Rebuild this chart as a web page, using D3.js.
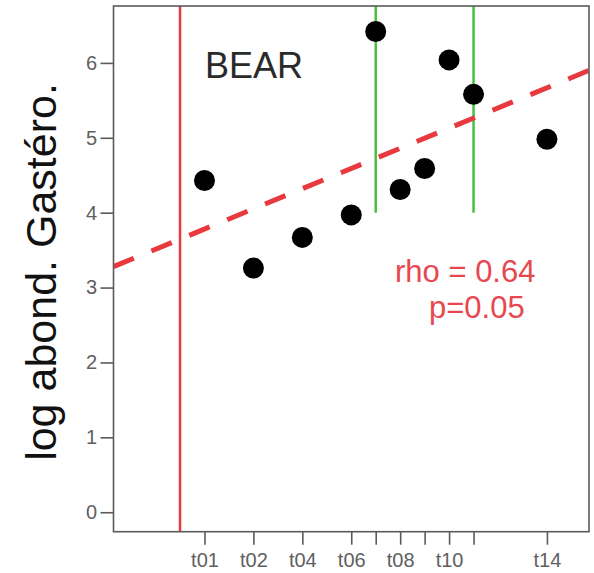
<!DOCTYPE html>
<html>
<head>
<meta charset="utf-8">
<script src="https://cdn.jsdelivr.net/npm/d3@7"></script>
<style>
  html, body { margin: 0; padding: 0; background: #fff; }
  svg { display: block; }
  text { font-family: "Liberation Sans", Arial, Helvetica, sans-serif; }
</style>
</head>
<body>
<svg id="chart" width="594" height="573"></svg>
<script>
// ---- data ----
const tickPositions = [1, 3, 5, 7, 8, 9, 10, 11, 12, 15];
const tickLabels    = ["t01", "t02", "t04", "t06", "t07", "t08", "t09", "t10", "t11", "t14"];
const shownLabels   = ["t01", "t02", "t04", "t06", "t08", "t10", "t14"];
const pointX = [1, 3, 5, 7, 8, 9, 10, 11, 12, 15];
const pointY = [4.43, 3.26, 3.67, 3.97, 6.42, 4.31, 4.59, 6.04, 5.58, 4.98];
const yTicks = [0, 1, 2, 3, 4, 5, 6];
const trendX = [-2.72, 16.72];
const trendY = [3.28, 5.90];
const redLineX = [0];
const greenLineX = [8, 12];
const greenLineFrom = [4.0];
const title = "BEAR";
const yLabel = "log abond. Gastéro.";
const statLines = ["rho = 0.64", "p=0.05"];

// ---- layout ----
const svg = d3.select("#chart");
const plot = { left: 113.5, right: 589, top: 6, bottom: 531.7 };

const x = d3.scaleLinear().domain([-2.72, 16.72]).range([plot.left, plot.right]);
const y = d3.scaleLinear().domain([-0.26, 6.76]).range([plot.bottom, plot.top]);

const red = "#e8393e";
const green = "#45c23c";
const axisGray = "#5a5a5a";

svg.append("defs").append("clipPath").attr("id", "clip")
  .append("rect")
  .attr("x", plot.left).attr("y", plot.top)
  .attr("width", plot.right - plot.left).attr("height", plot.bottom - plot.top);

const g = svg.append("g").attr("clip-path", "url(#clip)");

// red vertical line
g.selectAll("line.red").data(redLineX).join("line")
  .attr("class", "red")
  .attr("x1", d => x(d)).attr("x2", d => x(d))
  .attr("y1", y.range()[0]).attr("y2", y.range()[1])
  .attr("stroke", red).attr("stroke-width", 2.5);

// green vertical lines
g.selectAll("line.green").data(greenLineX).join("line")
  .attr("class", "green")
  .attr("x1", d => x(d)).attr("x2", d => x(d))
  .attr("y1", y(greenLineFrom[0])).attr("y2", y.range()[1])
  .attr("stroke", green).attr("stroke-width", 2.5);

// trend line
const trend = trendX.map((d, i) => [d, trendY[i]]);
g.append("path")
  .datum(trend)
  .attr("d", d3.line().x(d => x(d[0])).y(d => y(d[1])))
  .attr("fill", "none")
  .attr("stroke", red)
  .attr("stroke-width", 5)
  .attr("stroke-dasharray", "22,19");

// points
g.selectAll("circle").data(pointX.map((d, i) => [d, pointY[i]])).join("circle")
  .attr("cx", d => x(d[0])).attr("cy", d => y(d[1]))
  .attr("r", 10.5)
  .attr("fill", "#000");

// box
svg.append("rect")
  .attr("x", plot.left).attr("y", plot.top)
  .attr("width", plot.right - plot.left).attr("height", plot.bottom - plot.top)
  .attr("fill", "none").attr("stroke", axisGray).attr("stroke-width", 1.6);

// y axis
const yAxis = svg.append("g")
  .attr("transform", `translate(${plot.left},0)`)
  .call(d3.axisLeft(y).tickValues(yTicks).tickSize(13).tickPadding(3.5).tickFormat(d3.format("d")));
yAxis.select(".domain").remove();
yAxis.selectAll(".tick line").attr("stroke", axisGray).attr("stroke-width", 1.6);
yAxis.selectAll(".tick text").attr("fill", "#606060").style("font-size", "20px")
  .style("font-family", "'Liberation Sans', Arial, sans-serif");

// x axis
const xAxis = svg.append("g")
  .attr("transform", `translate(0,${plot.bottom})`)
  .call(d3.axisBottom(x).tickValues(tickPositions).tickSize(13).tickPadding(8)
    .tickFormat((d, i) => shownLabels.includes(tickLabels[i]) ? tickLabels[i] : ""));
xAxis.select(".domain").remove();
xAxis.selectAll(".tick line").attr("stroke", axisGray).attr("stroke-width", 1.6);
xAxis.selectAll(".tick text").attr("fill", "#606060").style("font-size", "20px")
  .style("font-family", "'Liberation Sans', Arial, sans-serif");

// title
svg.append("text")
  .attr("x", 205).attr("y", 78.3)
  .attr("fill", "#2a2a2a")
  .style("font-size", "36px")
  .text(title);

// stats
svg.append("text")
  .attr("x", 395).attr("y", 282)
  .attr("fill", "#e8474f")
  .style("font-size", "31px")
  .text(statLines[0]);
svg.append("text")
  .attr("x", 429).attr("y", 318)
  .attr("fill", "#e8474f")
  .style("font-size", "31px")
  .text(statLines[1]);

// y label
svg.append("text")
  .attr("transform", "translate(56,272) rotate(-90)")
  .attr("text-anchor", "middle")
  .attr("fill", "#111")
  .style("font-size", "43px")
  .text(yLabel);
</script>
</body>
</html>
